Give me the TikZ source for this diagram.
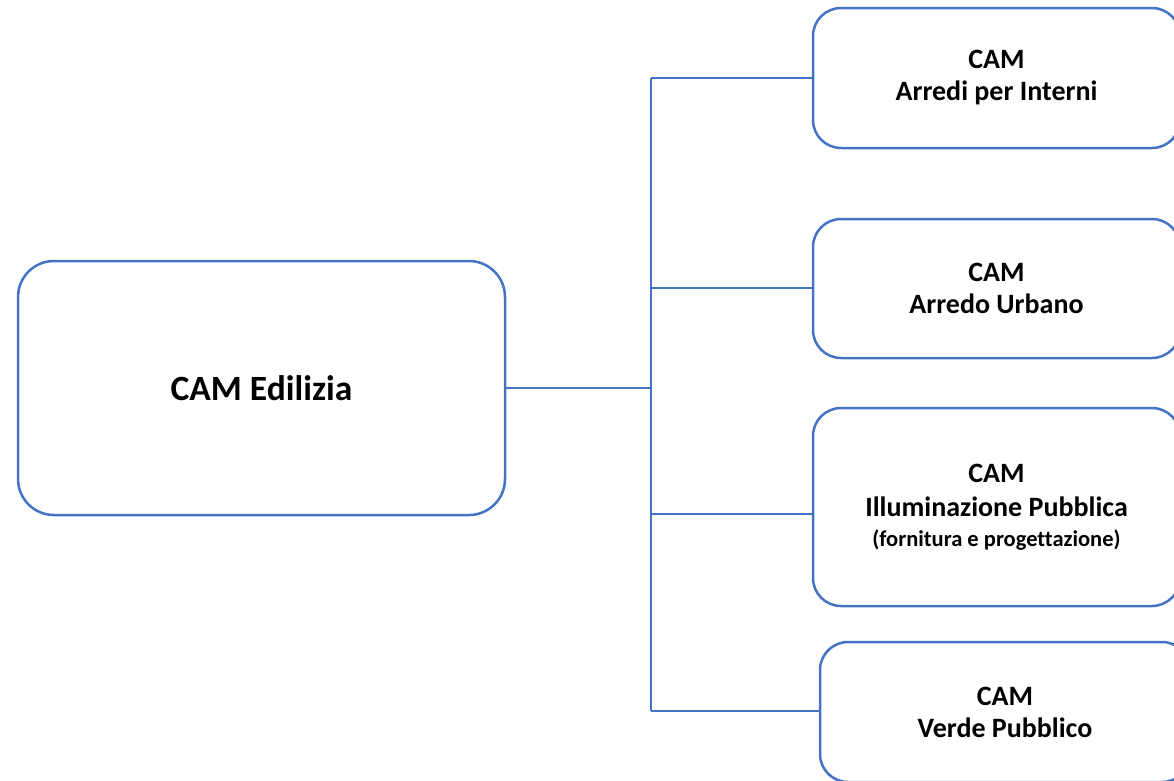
\documentclass[tikz,border=0pt]{standalone}
\usepackage{fontspec}
\setmainfont{Carlito}[Ligatures=NoCommon]
\usetikzlibrary{calc}
\definecolor{camblue}{HTML}{4472C4}

\begin{document}
\begin{tikzpicture}[x=1pt,y=-1pt,
  box/.style={draw=camblue,line width=2.5pt,rounded corners=28pt,align=center,inner sep=0pt,
    font=\bfseries\fontsize{28}{32}\selectfont},
  link/.style={draw=camblue,line width=2.5pt}]
\useasboundingbox (0,0) rectangle (1174,780);
\clip (0,0) rectangle (1174,780);

%draw main box
\node[box,minimum width=487pt,minimum height=254pt,rounded corners=36pt,
  font=\bfseries\fontsize{35.5}{42}\selectfont] (edilizia) at (261.5,388) {CAM Edilizia};

%draw right boxes
\node[box,minimum width=367pt,minimum height=140pt] (arredi) at (996.5,78) {CAM\\Arredi per Interni};
\node[box,minimum width=367pt,minimum height=139pt] (urbano) at (996.5,288.5) {CAM\\Arredo Urbano};
\node[box,minimum width=367pt,minimum height=198pt,font=\bfseries\fontsize{28}{34}\selectfont] (illum) at (996.5,507)
  {CAM\\Illuminazione Pubblica\\[-4pt]{\fontsize{22.5}{26}\selectfont (fornitura e progettazione)}};
\node[box,minimum width=370pt,minimum height=140pt] (verde) at (1005,712) {CAM\\Verde Pubblico};

%draw trunk line
\coordinate (t1) at (651,78);
\coordinate (t2) at (651,288);
\coordinate (t3) at (651,514);
\coordinate (t4) at (651,711);
\coordinate (hub) at (651,388);
\draw[link] (t1) -- (t4);
\draw[link] (edilizia.east) -- (hub);

%draw branches
\draw[link] (t1) -- (t1 -| arredi.west);
\draw[link] (t2) -- (t2 -| urbano.west);
\draw[link] (t3) -- (t3 -| illum.west);
\draw[link] (t4) -- (t4 -| verde.west);
\end{tikzpicture}
\end{document}
